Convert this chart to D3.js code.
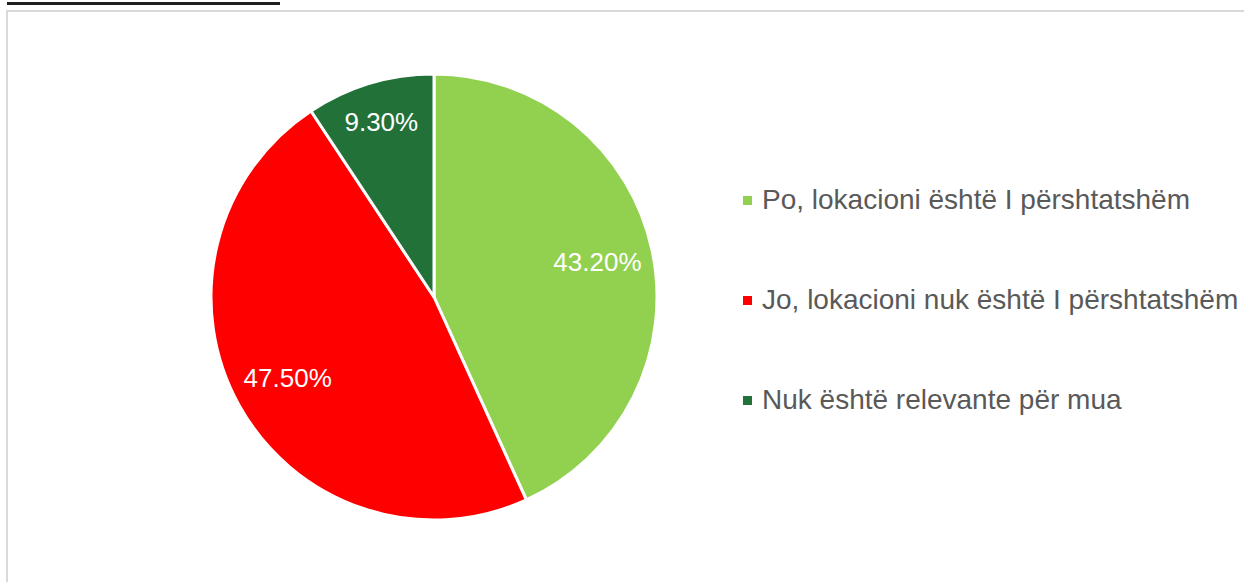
<!DOCTYPE html>
<html>
<head>
<meta charset="utf-8">
<script src="https://cdn.jsdelivr.net/npm/d3@7"></script>
<style>
  body { margin: 0; background: #fff; }
  svg { display: block; font-family: "Liberation Sans", Arial, sans-serif; }
</style>
</head>
<body>
<div id="chart"></div>
<script>
// data
var categories = ["Po, lokacioni është I përshtatshëm", "Jo, lokacioni nuk është I përshtatshëm", "Nuk është relevante për mua"];
var values = [43.2, 47.5, 9.3];
var labels = ["43.20%", "47.50%", "9.30%"];
var colors = ["#92D050", "#FF0000", "#217139"];

var svgWidth = 1244;
var svgHeight = 582;

var svg = d3.select("#chart")
    .append("svg")
    .attr("width", svgWidth)
    .attr("height", svgHeight);

// black underline at the top and the chart frame
svg.append("rect")
    .attr("x", 7).attr("y", 2)
    .attr("width", 273).attr("height", 3)
    .attr("fill", "#1f1f1f");

svg.append("rect")
    .attr("x", 7).attr("y", 11)
    .attr("width", 1260).attr("height", 600)
    .attr("fill", "none")
    .attr("stroke", "#d9d9d9")
    .attr("stroke-width", 2);

var cx = 434, cy = 297, radius = 223;

var pieData = d3.pie().sort(null).value(d => d)(values);

var arc = d3.arc().innerRadius(0).outerRadius(radius);

var pieGroup = svg.append("g")
    .attr("transform", `translate(${cx}, ${cy})`);

pieGroup.selectAll("path")
    .data(pieData)
    .enter()
    .append("path")
    .attr("d", arc)
    .attr("fill", (d, i) => colors[i])
    .attr("stroke", "#fff")
    .attr("stroke-width", 3)
    .attr("stroke-linejoin", "round");

// labels sit further out on the small slice
function labelArc(d) {
    var r = (d.endAngle - d.startAngle) < 1 ? radius * 0.82 : radius * 0.75;
    return d3.arc().innerRadius(r).outerRadius(r).centroid(d);
}

pieGroup.selectAll(".sliceLabel")
    .data(pieData)
    .enter()
    .append("text")
    .classed("sliceLabel", true)
    .attr("x", d => labelArc(d)[0])
    .attr("y", d => labelArc(d)[1])
    .attr("text-anchor", "middle")
    .attr("dy", "0.36em")
    .attr("fill", "#fff")
    .attr("font-size", "26px")
    .text((d, i) => labels[i]);

// legend
var legend = svg.append("g")
    .attr("transform", "translate(743, 200)");

var rows = legend.selectAll("g")
    .data(categories)
    .enter()
    .append("g")
    .attr("transform", (d, i) => `translate(0, ${i * 100})`);

rows.append("rect")
    .attr("x", 0).attr("y", -4)
    .attr("width", 9).attr("height", 9)
    .attr("fill", (d, i) => colors[i]);

rows.append("text")
    .attr("x", 19)
    .attr("y", 9)
    .attr("fill", "#595959")
    .attr("font-size", "28px")
    .text(d => d);
</script>
</body>
</html>
